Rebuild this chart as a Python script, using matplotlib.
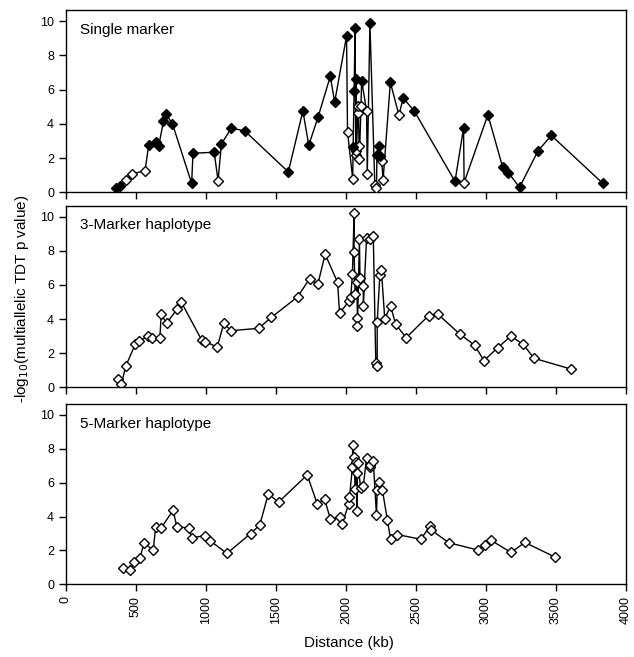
import matplotlib
matplotlib.use("Agg")
import matplotlib.pyplot as plt

plt.rcParams["font.family"] = ["Liberation Sans", "DejaVu Sans"]

# Single marker: distance (kb), -log10 p, filled marker flag
single_kb = [359, 388, 430, 470, 565, 591, 643, 662, 697, 714, 761, 898, 908,
             1059, 1087, 1111, 1182, 1277, 1589, 1693, 1735, 1801, 1889, 1920,
             2005, 2012, 2049, 2052, 2059, 2066, 2071, 2073, 2076, 2085, 2090,
             2094, 2097, 2108, 2113, 2148, 2153, 2172, 2207, 2219, 2222, 2238,
             2242, 2257, 2266, 2318, 2379, 2410, 2490, 2780, 2841, 2845, 3015,
             3121, 3161, 3241, 3373, 3468, 3835]
single_p = [0.23, 0.37, 0.70, 1.09, 1.25, 2.75, 2.95, 2.68, 4.14, 4.57, 4.0, 0.53, 2.28,
            2.34, 0.68, 2.83, 3.75, 3.59, 1.19, 4.75, 2.75, 4.38, 6.78, 5.27,
            9.12, 3.54, 0.78, 2.62, 5.94, 9.57, 2.19, 6.64, 2.44, 4.63, 5.02,
            2.73, 1.95, 5.06, 6.52, 4.77, 1.07, 9.88, 0.43, 0.23, 2.19, 2.68,
            2.1, 1.84, 0.70, 6.43, 4.51, 5.51, 4.73, 0.64, 3.75, 0.57, 4.53,
            1.45, 1.15, 0.29, 2.42, 3.32, 0.53]
single_filled = [1, 1, 0, 0, 0, 1, 1, 1, 1, 1, 1, 1, 1,
                 1, 0, 1, 1, 1, 1, 1, 1, 1, 1, 1,
                 1, 0, 0, 1, 1, 1, 0, 1, 0, 0, 0,
                 0, 0, 0, 1, 0, 0, 1, 0, 0, 1, 1,
                 1, 0, 0, 1, 0, 1, 1, 1, 1, 0, 1,
                 1, 1, 1, 1, 1, 1]

# 3-marker haplotype
hap3_kb = [372, 396, 429, 495, 523, 589, 617, 671, 681, 719, 794, 825, 970, 994,
           1081, 1128, 1180, 1376, 1468, 1656, 1741, 1800, 1852, 1941, 1955,
           2023, 2035, 2047, 2059, 2059, 2066, 2078, 2083, 2083, 2097, 2101,
           2125, 2125, 2148, 2172, 2196, 2214, 2224, 2224, 2243, 2254, 2278,
           2320, 2356, 2431, 2591, 2659, 2813, 2921, 2987, 3084, 3178, 3265,
           3345, 3609]
hap3_p = [0.51, 0.20, 1.27, 2.52, 2.73, 2.99, 2.89, 2.89, 4.28, 3.75, 4.59, 4.98, 2.77, 2.68,
          2.36, 3.75, 3.32, 3.46, 4.10, 5.31, 6.37, 6.05, 7.81, 6.15, 4.34,
          5.06, 5.31, 6.64, 10.23, 7.95, 5.5, 6.19, 4.04, 3.59, 8.69, 6.43,
          5.96, 4.79, 8.77, 8.67, 8.89, 1.41, 1.27, 3.83, 6.58, 6.86, 4.02,
          4.77, 3.69, 2.91, 4.20, 4.28, 3.13, 2.46, 1.56, 2.32, 2.99, 2.54,
          1.70, 1.07]

# 5-marker haplotype
hap5_kb = [410, 457, 488, 528, 558, 624, 641, 681, 766, 792, 876, 900, 994, 1032,
           1150, 1319, 1385, 1446, 1519, 1724, 1795, 1849, 1889, 1960, 1974,
           2021, 2026, 2047, 2049, 2059, 2066, 2073, 2078, 2083, 2085, 2106,
           2125, 2148, 2172, 2175, 2196, 2219, 2224, 2236, 2261, 2297, 2320,
           2365, 2535, 2601, 2612, 2737, 2945, 2992, 3037, 3180, 3279, 3491]
hap5_p = [0.98, 0.82, 1.33, 1.53, 2.43, 2.02, 3.39, 3.33, 4.38, 3.39, 3.33, 2.74, 2.88, 2.56,
          1.82, 2.99, 3.50, 5.34, 4.85, 6.46, 4.76, 5.01, 3.87, 3.97, 3.56,
          4.76, 5.13, 6.95, 8.24, 7.53, 5.62, 7.2, 4.34, 6.56, 7.14, 5.69,
          5.83, 7.46, 6.95, 7.07, 7.26, 4.07, 5.58, 6.07, 5.58, 3.78, 2.66,
          2.94, 2.66, 3.42, 3.19, 2.45, 2.02, 2.31, 2.60, 1.88, 2.47, 1.62]

titles = ["Single marker", "3-Marker haplotype", "5-Marker haplotype"]

fig = plt.figure(figsize=(6.34, 6.57), dpi=100)
rects = [[0.104, 0.7073, 0.883, 0.2775],
         [0.104, 0.4105, 0.883, 0.2764],
         [0.104, 0.1107, 0.883, 0.2744]]
axes = [fig.add_axes(r) for r in rects]

ms = 5.5
ax = axes[0]
ax.plot(single_kb, single_p, color="black", lw=1, zorder=2)
fk = [k for k, f in zip(single_kb, single_filled) if f]
fp = [p for p, f in zip(single_p, single_filled) if f]
ok = [k for k, f in zip(single_kb, single_filled) if not f]
op = [p for p, f in zip(single_p, single_filled) if not f]
ax.plot(ok, op, "D", ms=ms, mfc="white", mec="black", mew=1, zorder=3)
ax.plot(fk, fp, "D", ms=ms, mfc="black", mec="black", mew=1, zorder=4)

axes[1].plot(hap3_kb, hap3_p, "-D", color="black", lw=1, ms=ms, mfc="white", mec="black", mew=1)
axes[2].plot(hap5_kb, hap5_p, "-D", color="black", lw=1, ms=ms, mfc="white", mec="black", mew=1)

for i, ax in enumerate(axes):
    ax.set_xlim(0, 4000)
    ax.set_ylim(0, 10.65)
    ax.set_yticks([0, 2, 4, 6, 8, 10])
    ax.set_xticks(range(0, 4001, 500))
    ax.tick_params(direction="out", length=5, width=1, labelsize=9)
    for s in ax.spines.values():
        s.set_linewidth(1)
    ax.text(0.025, 0.93, titles[i], transform=ax.transAxes, fontsize=11,
            va="top", ha="left")
    if i < 2:
        ax.set_xticklabels([])
    else:
        ax.set_xticklabels([str(v) for v in range(0, 4001, 500)], rotation=90)

fig.text(0.035, 0.546, "-log$_{10}$(multiallelic TDT p value)", rotation=90,
         va="center", ha="center", fontsize=11)
fig.text(0.55, 0.022, "Distance (kb)", ha="center", va="center", fontsize=11)

fig.savefig("out.png", dpi=100)
